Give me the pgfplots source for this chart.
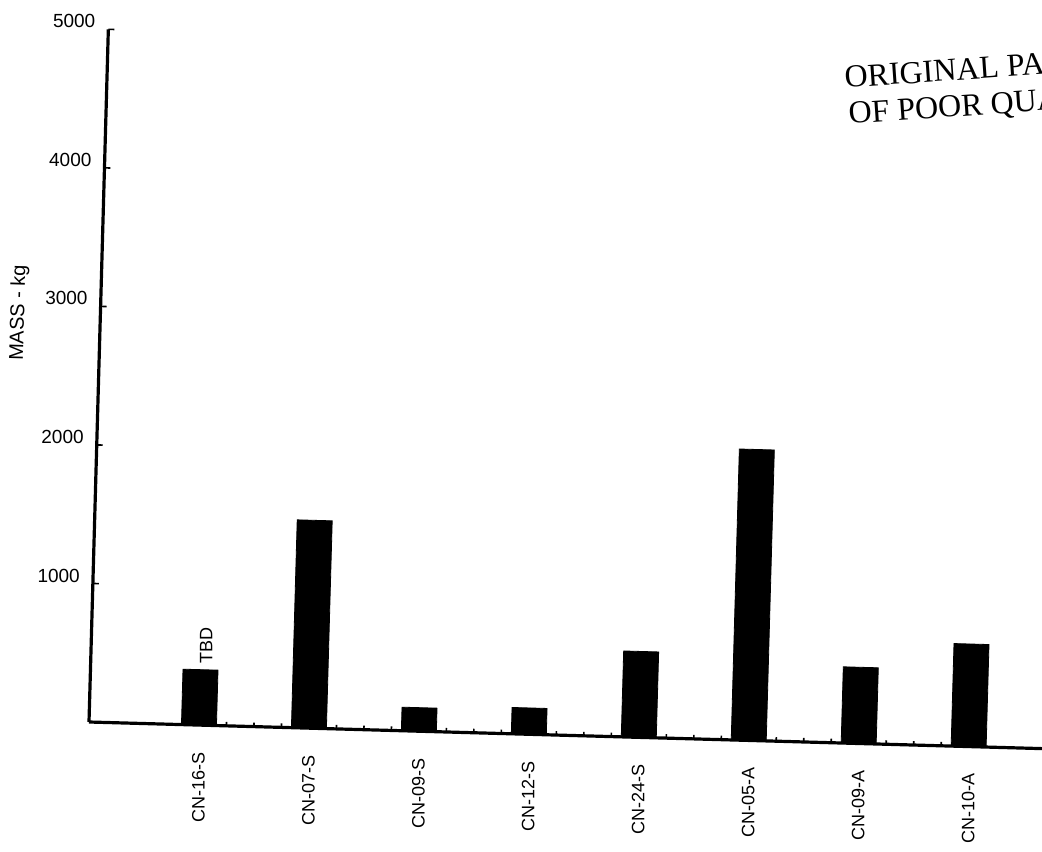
\documentclass[border=0pt]{standalone}
\usepackage{pgfplots}
\pgfplotsset{compat=1.18}
\usepackage{fontspec}
\setmainfont{Liberation Sans}
\newfontfamily\stampfont{Liberation Serif}

% Mass of each component (kg)
\pgfplotstableread{
idx name   mass
1   CN-16-S 400
2   CN-07-S 1500
3   CN-09-S 170
4   CN-12-S 190
5   CN-24-S 620
6   CN-05-A 2100
7   CN-09-A 550
8   CN-10-A 740
}\masstable

\begin{document}
\begin{tikzpicture}
\path[use as bounding box] (-44.5pt,-64.5pt) rectangle (476.5pt,361pt);
\clip (-44.5pt,-64.5pt) rectangle (476.5pt,361pt);
\begin{axis}[
  anchor=origin, at={(0pt,0pt)},
  rotate around={-1.6:(0pt,0pt)},
  x=55pt, y=0.0693pt,
  xmin=0, xmax=9,
  ymin=0, ymax=5000,
  axis x line=bottom, axis y line=left,
  axis line style={-, line width=1.6pt, black},
  xtick={1,...,8},
  xticklabels={CN-16-S,CN-07-S,CN-09-S,CN-12-S,CN-24-S,CN-05-A,CN-09-A,CN-10-A},
  xticklabel style={rotate=90, anchor=east, font=\fontsize{9}{10}\selectfont},
  xticklabel shift=10pt,
  minor x tick num=3,
  ytick={1000,2000,3000,4000,5000},
  yticklabel style={font=\fontsize{9.5}{11}\selectfont, yshift=4pt, xshift=-3pt},
  /pgf/number format/assume math mode=true,
  /pgf/number format/set thousands separator={},
  tick align=inside,
  major tick length=3pt, minor tick length=2pt,
  tick style={black, line width=0.8pt},
  clip=false,
]
\addplot[ybar, bar width=17.5pt, fill=black, draw=black] table[x=idx, y=mass] {\masstable};
\node[rotate=90, anchor=west, font=\fontsize{9}{10}\selectfont, inner sep=0pt]
  at (axis cs:1.05,440) {TBD};
\end{axis}
% y-axis title
\node[rotate=88.4, font=\fontsize{10}{12}\selectfont, inner sep=0pt]
  at (-35pt,204.5pt) {MASS - kg};
% stamp in the upper right corner
\node[anchor=base west, rotate=4, inner sep=0pt, font=\stampfont\fontsize{16}{18}\selectfont]
  at (378pt,317pt) {ORIGINAL PAGE IS};
\node[anchor=base west, rotate=4, inner sep=0pt, font=\stampfont\fontsize{16}{18}\selectfont]
  at (380pt,299pt) {OF POOR QUALITY};
\end{tikzpicture}
\end{document}
